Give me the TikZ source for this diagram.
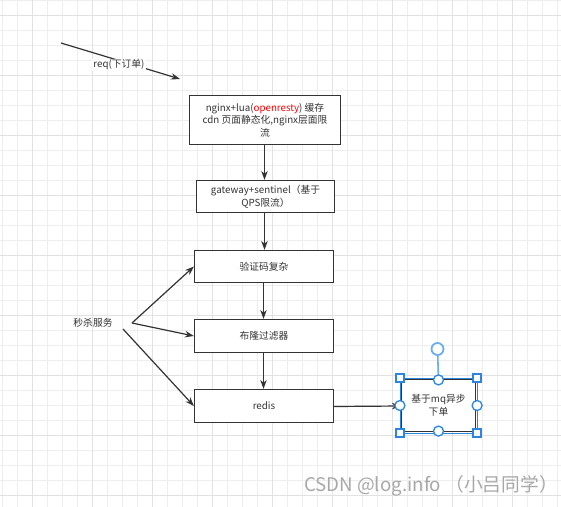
\documentclass[tikz,border=0pt]{standalone}
\usepackage{fontspec}
\setmainfont{Noto Sans CJK SC}
\usetikzlibrary{arrows.meta}
\definecolor{ink}{HTML}{333333}
\definecolor{gridminor}{HTML}{EEEEEE}
\definecolor{gridmajor}{HTML}{E2E2E2}
\definecolor{selblue}{HTML}{2A86E0}
\definecolor{rotblue}{HTML}{6AAEEE}
\definecolor{wmgrey}{HTML}{A8A8A8}
\tikzset{
  box/.style={draw=ink, line width=1.2bp, fill=white, text=ink, align=center,
    inner sep=2pt, font=\fontsize{9.8}{12.5}\selectfont},
  conn/.style={draw=ink, line width=1.2bp, -{Stealth[length=9bp,width=6.5bp]}},
  lbl/.style={text=ink, font=\fontsize{9.8}{12.5}\selectfont, inner sep=1pt},
  hsq/.style={draw=selblue, fill=white, line width=1.3bp, minimum size=8bp, inner sep=0pt, shape=rectangle},
  hci/.style={draw=selblue, fill=white, line width=1.3bp, minimum size=10bp, inner sep=0pt, shape=circle},
}
\begin{document}
\begin{tikzpicture}[x=1bp,y=-1bp]
\useasboundingbox (0,0) rectangle (561,507);
\fill[white] (0,0) rectangle (561,507);
% grid
\foreach \k in {0,...,37} {
  \pgfmathsetmacro{\xx}{2.5+15*\k}
  \draw[gridminor, line width=1bp] (\xx,0) -- (\xx,507);
}
\foreach \k in {0,...,33} {
  \pgfmathsetmacro{\yy}{0.5+15*\k}
  \draw[gridminor, line width=1bp] (0,\yy) -- (561,\yy);
}
\foreach \xx in {32.5,92.5,...,512.5} {
  \draw[gridmajor, line width=1bp] (\xx,0) -- (\xx,507);
}
\foreach \yy in {15.5,75.5,...,495.5} {
  \draw[gridmajor, line width=1bp] (0,\yy) -- (561,\yy);
}

% boxes
\node[box, minimum width=151bp, minimum height=49bp] (b1) at (265,120)
  {nginx+lua(\textcolor{red}{openresty}) 缓存\\cdn 页面静态化,nginx层面限\\流};
\node[box, minimum width=138bp, minimum height=32bp] (b2) at (265.5,196.5)
  {gateway+sentinel（基于\\QPS限流）};
\node[box, minimum width=139bp, minimum height=32bp] (b3) at (264,266.5) {验证码复杂};
\node[box, minimum width=139bp, minimum height=33bp] (b4) at (264,336) {布隆过滤器};
\node[box, minimum width=139bp, minimum height=33bp] (b5) at (264,406) {redis};
\node[box, minimum width=74bp, minimum height=52bp] (b6) at (438.5,405.5) {基于mq异步\\下单};
\draw[selblue, line width=0.8bp] ([shift={(-1,-1)}]b6.north west) rectangle ([shift={(1,1)}]b6.south east);

% vertical connectors
\draw[conn] ([xshift=-0.5bp]b1.south) -- ([xshift=-0.5bp]b1.south |- b2.north);
\draw[conn] ([xshift=-1bp]b2.south) -- ([xshift=-1bp]b2.south |- b3.north);
\draw[conn] ([xshift=-0.5bp]b3.south) -- ([xshift=-0.5bp]b4.north);
\draw[conn] ([xshift=-0.5bp]b4.south) -- ([xshift=-0.5bp]b5.north);
\draw[conn] ([yshift=-0.5bp]b5.east) -- ([yshift=-0.5bp]b6.west);

% req arrow
\coordinate (reqs) at (61,43);
\coordinate (reqe) at (180,79);
\draw[conn] (reqs) -- (reqe);
\node[lbl, fill=white] (req) at (119,65) {req(下订单)};

% seckill service
\node[lbl] (ms) at (93,323) {秒杀服务};
\coordinate (msa) at (132,323);
\coordinate (msb) at (123,329);
\draw[conn] (msa) -- (b3.west);
\draw[conn] (msa) -- (b4.west);
\draw[conn] (msb) -- (b5.west);

% selection handles
\coordinate (rotc) at (437.5,349);
\draw[rotblue, line width=1.6bp] (rotc) -- (b6.north);
\node[circle, draw=rotblue, fill=white, line width=1.8bp, minimum size=12bp, inner sep=0pt] (rot) at (rotc) {};
\node[hsq] (h1) at ([shift={(-1,-1)}]b6.north west) {};
\node[hsq] (h2) at ([shift={(1,-1)}]b6.north east) {};
\node[hsq] (h3) at ([shift={(-1,1)}]b6.south west) {};
\node[hsq] (h4) at ([shift={(1,1)}]b6.south east) {};
\node[hci] (h5) at ([yshift=-1bp]b6.north) {};
\node[hci] (h6) at ([yshift=1bp]b6.south) {};
\node[hci] (h7) at ([xshift=-1bp]b6.west) {};
\node[hci] (h8) at ([xshift=1bp]b6.east) {};

% watermark
\node[anchor=east, text=wmgrey, font=\fontsize{18.8}{20}\selectfont, inner sep=0pt] (wm) at (558,486) {CSDN @log.info （小吕同学）};
\end{tikzpicture}
\end{document}
